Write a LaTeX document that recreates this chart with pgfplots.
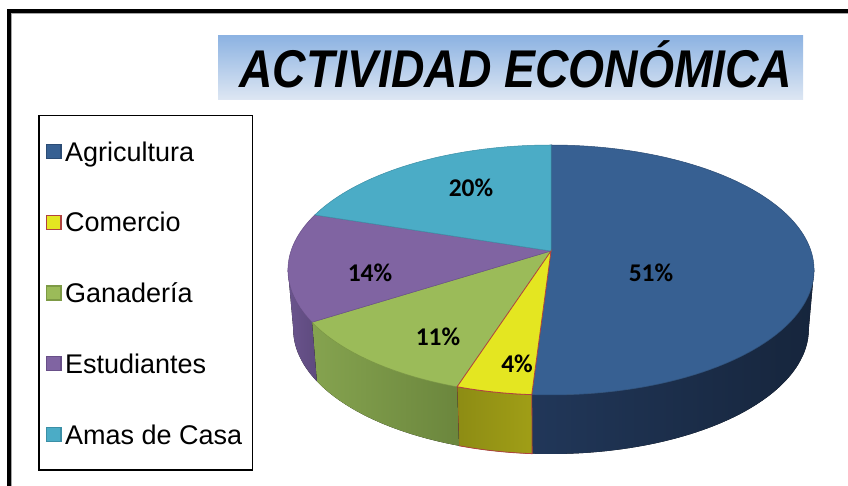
\documentclass[border=0pt]{standalone}
\usepackage{fontspec}
\setmainfont{Liberation Sans}
\newfontfamily\calibri{Carlito}
\usepackage{pgfplots}
\usepackage{pgfplotstable}
\usepgfplotslibrary{fillbetween}
\pgfplotsset{compat=1.18}

\definecolor{cAgri}{HTML}{376092}
\definecolor{cAgriD}{HTML}{2B4C75}
\definecolor{cAgriS1}{HTML}{213759}
\definecolor{cAgriS2}{HTML}{16253C}
\definecolor{cCom}{HTML}{E4E621}
\definecolor{cComD}{HTML}{B0433F}
\definecolor{cComS1}{HTML}{8D8C14}
\definecolor{cComS2}{HTML}{A09E16}
\definecolor{cGan}{HTML}{9BBB59}
\definecolor{cGanD}{HTML}{7D9A45}
\definecolor{cGanS1}{HTML}{85A34F}
\definecolor{cGanS2}{HTML}{6B863D}
\definecolor{cEst}{HTML}{8064A2}
\definecolor{cEstD}{HTML}{684F88}
\definecolor{cEstS1}{HTML}{6A548D}
\definecolor{cEstS2}{HTML}{5E4A7E}
\definecolor{cAma}{HTML}{4BACC6}
\definecolor{cAmaD}{HTML}{3B8FA6}
\definecolor{tTop}{HTML}{8DB3E2}
\definecolor{tBot}{HTML}{DEE7F3}

\pgfplotstableread{
name value
Agricultura 51
Comercio 4
Ganaderia 11
Estudiantes 14
Amas 20
}\piedata

\pgfplotstablegetelem{0}{value}\of\piedata \edef\vA{\pgfplotsretval}
\pgfplotstablegetelem{1}{value}\of\piedata \edef\vB{\pgfplotsretval}
\pgfplotstablegetelem{2}{value}\of\piedata \edef\vC{\pgfplotsretval}
\pgfplotstablegetelem{3}{value}\of\piedata \edef\vD{\pgfplotsretval}
\pgfplotstablegetelem{4}{value}\of\piedata \edef\vE{\pgfplotsretval}
\pgfmathsetmacro\aA{90}
\pgfmathsetmacro\aB{\aA-3.6*\vA}
\pgfmathsetmacro\aC{\aB-3.6*\vB}
\pgfmathsetmacro\aD{\aC-3.6*\vC}
\pgfmathsetmacro\aE{\aD-3.6*\vD}
\pgfmathsetmacro\aF{\aE-3.6*\vE}

\begin{document}
\begin{tikzpicture}
\begin{axis}[
  at={(0,0)}, anchor=origin,
  scale only axis, width=848pt, height=486pt,
  xmin=0, xmax=848, ymin=0, ymax=486,
  hide axis, clip=false,
  declare function={
    px(\t)=551+260*cos(\t)/(1+0.152*sin(\t));
    py(\t)=216+(125*sin(\t)+19)/(1+0.152*sin(\t));
    bx(\t)=551+0.98*260*cos(\t)/(1+0.152*sin(\t));
    by(\t)=216-59+(125*sin(\t)+19)/(1+0.152*sin(\t));
  },
  legend style={at={(axis cs:38,371)}, anchor=north west, draw=black,
    line width=1.5pt, fill=white, inner xsep=7pt, inner ysep=26pt,
    row sep=51.25pt, font=\fontsize{27}{30}\selectfont,
    nodes={inner xsep=3.5pt, inner ysep=0pt, text height=19.5pt, text depth=0pt}},
  legend cell align=left,
  legend image code/.code={\draw[#1, line width=1.3pt] (0pt,-7pt) rectangle (14.5pt,7pt);},
]
% ---------- side walls ----------
\addplot[draw=none, name path=agT, domain=\aB:-8.74, samples=60, variable=\t, forget plot] ({px(\t)},{py(\t)});
\addplot[draw=none, name path=agB, domain=\aB:-8.74, samples=60, variable=\t, forget plot] ({bx(\t)},{by(\t)});
\addplot[left color=cAgriS1, right color=cAgriS2, draw=none, forget plot] fill between[of=agT and agB];

\addplot[draw=none, name path=coT, domain=\aC:\aB, samples=20, variable=\t, forget plot] ({px(\t)},{py(\t)});
\addplot[draw=none, name path=coB, domain=\aC:\aB, samples=20, variable=\t, forget plot] ({bx(\t)},{by(\t)});
\addplot[left color=cComS1, right color=cComS2, draw=cComD, line width=0.8pt, forget plot] fill between[of=coT and coB];

\addplot[draw=none, name path=gaT, domain=\aD:\aC, samples=40, variable=\t, forget plot] ({px(\t)},{py(\t)});
\addplot[draw=none, name path=gaB, domain=\aD:\aC, samples=40, variable=\t, forget plot] ({bx(\t)},{by(\t)});
\addplot[left color=cGanS1, right color=cGanS2, draw=none, forget plot] fill between[of=gaT and gaB];

\addplot[draw=none, name path=esT, domain=-171.26:\aD, samples=30, variable=\t, forget plot] ({px(\t)},{py(\t)});
\addplot[draw=none, name path=esB, domain=-171.26:\aD, samples=30, variable=\t, forget plot] ({bx(\t)},{by(\t)});
\addplot[left color=cEstS1, right color=cEstS2, draw=none, forget plot] fill between[of=esT and esB];

% ---------- top faces ----------
\addplot[fill=cAgri, draw=cAgriD, line width=0.5pt, domain=\aB:\aA, samples=120, variable=\t, forget plot] ({px(\t)},{py(\t)}) -- (axis cs:551,235) -- cycle;
\addplot[fill=cGan, draw=cGanD, line width=0.5pt, domain=\aD:\aC, samples=40, variable=\t, forget plot] ({px(\t)},{py(\t)}) -- (axis cs:551,235) -- cycle;
\addplot[fill=cEst, draw=cEstD, line width=0.5pt, domain=\aE:\aD, samples=50, variable=\t, forget plot] ({px(\t)},{py(\t)}) -- (axis cs:551,235) -- cycle;
\addplot[fill=cAma, draw=cAmaD, line width=0.5pt, domain=\aF:\aE, samples=60, variable=\t, forget plot] ({px(\t)},{py(\t)}) -- (axis cs:551,235) -- cycle;
\addplot[fill=cCom, draw=cComD, line width=0.8pt, domain=\aC:\aB, samples=20, variable=\t, forget plot] ({px(\t)},{py(\t)}) -- (axis cs:551,235) -- cycle;

% ---------- data labels ----------
\begin{scope}[every node/.style={font=\calibri\bfseries\fontsize{25.5}{25.5}\selectfont, anchor=base, inner sep=0pt}]
\node at (axis cs:651,204) {\vA\%};
\node at (axis cs:517,113) {\vB\%};
\node at (axis cs:438,140) {\vC\%};
\node at (axis cs:370,204) {\vD\%};
\node at (axis cs:471,289) {\vE\%};
\end{scope}

% ---------- legend ----------
\addlegendimage{fill=cAgri, draw=cAgriD}
\addlegendentry{Agricultura}
\addlegendimage{fill=cCom, draw=cComD}
\addlegendentry{Comercio}
\addlegendimage{fill=cGan, draw=cGanD}
\addlegendentry{Ganadería}
\addlegendimage{fill=cEst, draw=cEstD}
\addlegendentry{Estudiantes}
\addlegendimage{fill=cAma, draw=cAmaD}
\addlegendentry{Amas de Casa}

% ---------- title ----------
\node[inner sep=0pt, minimum width=585pt, minimum height=64pt, top color=tTop, bottom color=tBot] at (axis cs:510.5,418) {};
\node[anchor=base, inner sep=0pt, font=\fontsize{47}{47}\bfseries\itshape] at (axis cs:516,398) {\scalebox{0.985}[1.13]{ACTIVIDAD ECONÓMICA}};

% ---------- frame ----------
\draw[black!35, line width=0.8pt] (axis cs:11.8,0) -- (axis cs:11.8,472.1) -- (axis cs:848,472.1);
\draw[black, line width=4pt] (axis cs:8.5,0) -- (axis cs:8.5,474.5) -- (axis cs:848,474.5);
\end{axis}
\pgfresetboundingbox
\useasboundingbox (0,0) rectangle (848pt,486pt);
\end{tikzpicture}
\end{document}
